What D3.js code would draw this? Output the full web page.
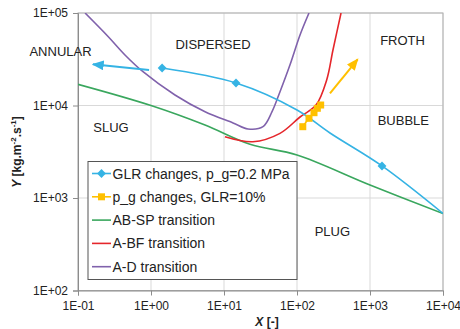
<!DOCTYPE html>
<html><head><meta charset="utf-8">
<script src="https://cdn.jsdelivr.net/npm/d3@7"></script>
<style>body{margin:0;background:#fff}svg{display:block}text{font-family:"Liberation Sans",Arial,sans-serif}</style>
</head><body><svg id="c" width="460" height="329"></svg>
<script>
// ---- data ----
const xTicks = [0.1, 1, 10, 100, 1000, 10000];
const xTickLabels = ["1E-01", "1E+00", "1E+01", "1E+02", "1E+03", "1E+04"];
const yTicks = [100, 1000, 10000, 100000];
const yTickLabels = ["1E+02", "1E+03", "1E+04", "1E+05"];

// GLR changes, p_g = 0.2 MPa (line + markers)
const glrLineX = [1.42, 14.6, 100, 283, 1460, 10000];
const glrLineY = [25400, 17500, 8940, 5040, 2220, 680];
const glrMarkX = [1.42, 14.6, 1460];
const glrMarkY = [25400, 17500, 2220];

// p_g changes, GLR = 10%
const pgX = [120, 146, 171, 190, 211];
const pgY = [5900, 7270, 8360, 9330, 10120];

// AB-SP transition
const abspX = [0.1, 1, 5.5, 22.7, 100, 1000, 10000];
const abspY = [16950, 10000, 6150, 3810, 2917, 1383, 680];

// A-BF transition
const abfX = [10.3, 24.9, 58.5, 110, 182, 255, 311, 401];
const abfY = [4600, 4060, 5000, 7510, 10100, 18900, 39800, 100000];

// A-D transition
const adX = [0.125, 0.26, 0.44, 0.777, 2.13, 5.5, 13.3, 21.3, 34.2, 45.5, 58.5, 80, 110, 146];
const adY = [100000, 55400, 35200, 23200, 13000, 8570, 6470, 5570, 5900, 8570, 14100, 27400, 57800, 100000];

// annotation arrows [from, to]
const blueArrowX = [0.94, 0.16];
const blueArrowY = [24200, 27900];
const yellowArrowX = [283, 678];
const yellowArrowY = [13550, 31600];

// flow-regime labels
const regionNames = ["ANNULAR", "DISPERSED", "FROTH", "BUBBLE", "SLUG", "PLUG"];
const regionX = [0.0576, 7.07, 2790, 2860, 0.283, 305];
const regionY = [38800, 45100, 50200, 6850, 5810, 432];

const legendNames = ["GLR changes, p_g=0.2 MPa", "p_g changes, GLR=10%", "AB-SP transition", "A-BF transition", "A-D transition"];

// ---- styles ----
const C = {blue: "#35B3E4", yellow: "#FFC000", green: "#3AA75E", red: "#E5262B", purple: "#8062AC"};

const svg = d3.select("#c");
const L = 78, R = 443, T = 13, B = 290.5;
const x = d3.scaleLog().domain([0.1, 10000]).range([L, R]);
const y = d3.scaleLog().domain([100, 100000]).range([B, T]);

svg.append("defs").append("clipPath").attr("id", "clip")
  .append("rect").attr("x", L).attr("y", T).attr("width", R - L).attr("height", B - T);

// gridlines
const g = svg.append("g");
g.selectAll(".vg").data(xTicks).enter().append("line")
  .attr("x1", d => x(d)).attr("x2", d => x(d)).attr("y1", T).attr("y2", B)
  .attr("stroke", "#d9d9d9").attr("stroke-width", 1);
g.selectAll(".hg").data(yTicks).enter().append("line")
  .attr("x1", L).attr("x2", R).attr("y1", d => y(d)).attr("y2", d => y(d))
  .attr("stroke", "#d9d9d9").attr("stroke-width", 1);
svg.append("rect").attr("x", L).attr("y", T).attr("width", R - L).attr("height", B - T)
  .attr("fill", "none").attr("stroke", "#b0b0b0").attr("stroke-width", 1);

// axes
const xAxis = d3.axisBottom(x).tickValues(xTicks).tickFormat((d, i) => xTickLabels[i]).tickSize(5).tickPadding(4);
const yAxis = d3.axisLeft(y).tickValues(yTicks).tickFormat((d, i) => yTickLabels[i]).tickSize(5).tickPadding(5);
const gx = svg.append("g").attr("transform", `translate(0,${B})`).call(xAxis);
const gy = svg.append("g").attr("transform", `translate(${L},0)`).call(yAxis);
[gx, gy].forEach(a => {
  a.select(".domain").attr("stroke", "#8c8c8c");
  a.selectAll(".tick line").attr("stroke", "#8c8c8c");
  a.selectAll("text").attr("font-size", 12).attr("fill", "#222").attr("font-family", "Liberation Sans, Arial, sans-serif");
});
gx.selectAll("text").attr("dy", "0.9em");

// axis titles
const xt = svg.append("text").attr("x", 267).attr("y", 326).attr("text-anchor", "middle")
  .attr("font-size", 12).attr("font-weight", "bold").attr("fill", "#222");
xt.append("tspan").attr("font-style", "italic").text("X");
xt.append("tspan").text(" [-]");

const yt = svg.append("text").attr("transform", "translate(21,152) rotate(-90)").attr("text-anchor", "middle")
  .attr("font-size", 12).attr("font-weight", "bold").attr("fill", "#222");
yt.append("tspan").attr("font-style", "italic").text("Y");
yt.append("tspan").text(" [kg.m");
yt.append("tspan").attr("font-size", 8).attr("dy", -5).text("-2");
yt.append("tspan").attr("dy", 5).text(".s");
yt.append("tspan").attr("font-size", 8).attr("dy", -5).text("-1");
yt.append("tspan").attr("dy", 5).text("]");

// region labels
svg.append("g").selectAll("text").data(regionNames).enter().append("text")
  .attr("x", (d, i) => x(regionX[i])).attr("y", (d, i) => y(regionY[i]))
  .attr("text-anchor", "middle").attr("dominant-baseline", "central")
  .attr("font-size", 13).attr("fill", "#222").text(d => d);

// curves
const plot = svg.append("g").attr("clip-path", "url(#clip)");
const lineGen = d3.line().x(d => x(d[0])).y(d => y(d[1])).curve(d3.curveCatmullRom.alpha(0.5));
const zip = (a, b) => a.map((v, i) => [v, b[i]]);

function drawLine(xs, ys, color) {
  plot.append("path").datum(zip(xs, ys)).attr("d", lineGen)
    .attr("fill", "none").attr("stroke", color).attr("stroke-width", 1.6);
}
drawLine(abspX, abspY, C.green);
drawLine(abfX, abfY, C.red);
drawLine(adX, adY, C.purple);
drawLine(glrLineX, glrLineY, C.blue);
drawLine(pgX, pgY, C.yellow);

// markers
const diamond = d3.symbol().type(d3.symbolDiamond2 || d3.symbolDiamond).size(50);
plot.selectAll(".dm").data(zip(glrMarkX, glrMarkY)).enter().append("path")
  .attr("d", diamond).attr("transform", d => `translate(${x(d[0])},${y(d[1])})`)
  .attr("fill", C.blue);
plot.selectAll(".sq").data(zip(pgX, pgY)).enter().append("rect")
  .attr("x", d => x(d[0]) - 3.5).attr("y", d => y(d[1]) - 3.5)
  .attr("width", 7).attr("height", 7).attr("fill", C.yellow);

// arrows
const defs = svg.select("defs");
[["ab", C.blue], ["ay", C.yellow]].forEach(([id, col]) => {
  defs.append("marker").attr("id", id).attr("viewBox", "0 0 10 10").attr("refX", 9).attr("refY", 5)
    .attr("markerWidth", 6).attr("markerHeight", 5).attr("markerUnits", "strokeWidth").attr("orient", "auto")
    .attr("preserveAspectRatio", "none")
    .append("path").attr("d", "M0,0 L10,5 L0,10 Z").attr("fill", col);
});
function arrow(xs, ys, col, id) {
  svg.append("line").attr("x1", x(xs[0])).attr("y1", y(ys[0])).attr("x2", x(xs[1])).attr("y2", y(ys[1]))
    .attr("stroke", col).attr("stroke-width", 2).attr("marker-end", `url(#${id})`);
}
arrow(blueArrowX, blueArrowY, C.blue, "ab");
arrow(yellowArrowX, yellowArrowY, C.yellow, "ay");

// legend
const lg = svg.append("g");
lg.append("rect").attr("x", 88).attr("y", 161.5).attr("width", 209).attr("height", 118)
  .attr("fill", "#fff").attr("stroke", "#555").attr("stroke-width", 1);
const legColors = [C.blue, C.yellow, C.green, C.red, C.purple];
legendNames.forEach((name, i) => {
  const yy = 173.5 + i * 23.3;
  lg.append("line").attr("x1", 92).attr("x2", 111).attr("y1", yy).attr("y2", yy)
    .attr("stroke", legColors[i]).attr("stroke-width", 1.6);
  if (i === 0) lg.append("path").attr("d", diamond).attr("transform", `translate(101.5,${yy})`).attr("fill", C.blue);
  if (i === 1) lg.append("rect").attr("x", 98).attr("y", yy - 3.5).attr("width", 7).attr("height", 7).attr("fill", C.yellow);
  lg.append("text").attr("x", 112.5).attr("y", yy).attr("dominant-baseline", "central")
    .attr("font-size", 14).attr("fill", "#222").text(name);
});
</script></body></html>
